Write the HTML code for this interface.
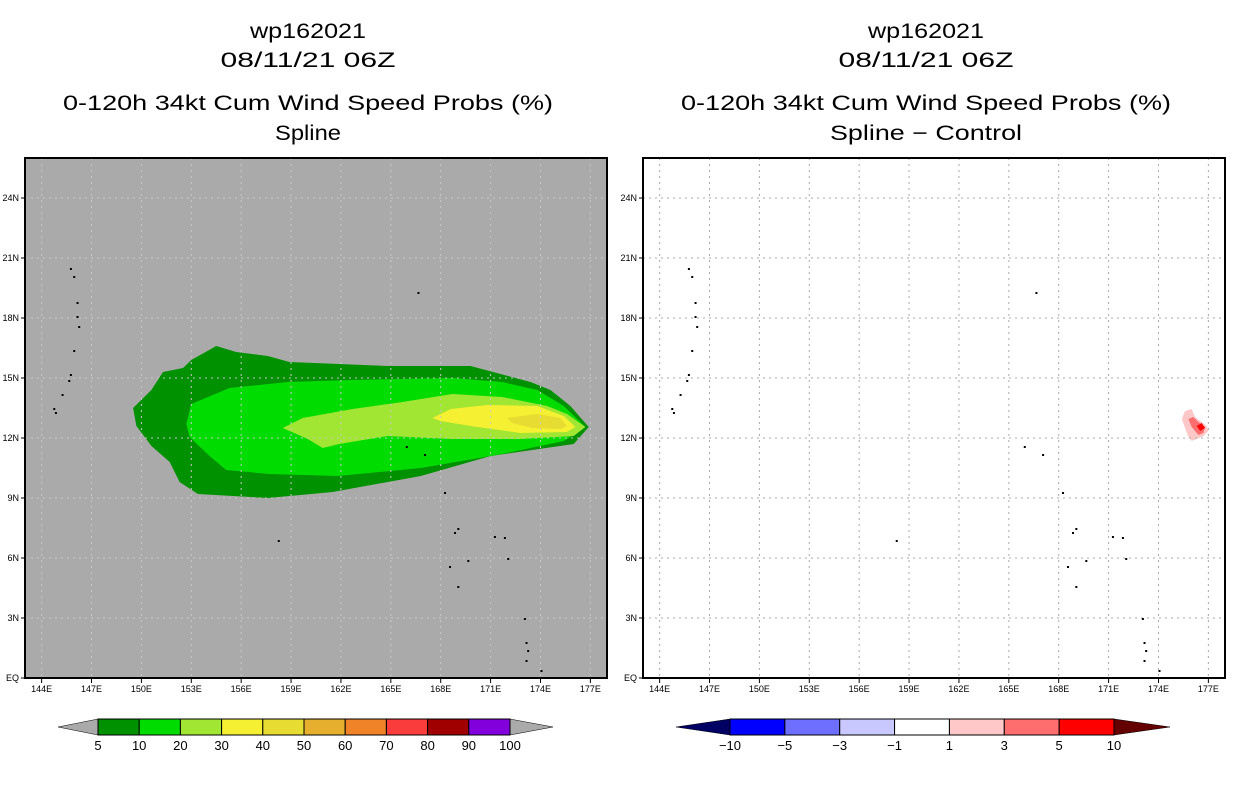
<!DOCTYPE html>
<html><head><meta charset="utf-8"><style>
body{margin:0;background:#fff;width:1236px;height:800px;overflow:hidden;font-family:"Liberation Sans",sans-serif}
svg{position:absolute;left:0;top:0}
</style></head><body>
<svg id="c" width="1236" height="800" xmlns="http://www.w3.org/2000/svg"></svg>
<script>
const lonTicks=[144,147,150,153,156,159,162,165,168,171,174,177];
const latTicks=[0,3,6,9,12,15,18,21,24];
const latLabels=["EQ","3N","6N","9N","12N","15N","18N","21N","24N"];
const leftLevels=["5","10","20","30","40","50","60","70","80","90","100"];
const leftColors=["#009100","#00dc00","#a0e632","#f5f032","#e6dc32","#e6af2d","#f08228","#fa3c3c","#a00000","#8200dc"];
const rightLevels=["−10","−5","−3","−1","1","3","5","10"];
const rightColors=["#0000ff","#6e6eff","#c8c8ff","#ffffff","#ffc8c8","#ff6e6e","#ff0000"];
const p5=[[149.5,13.5],[150.6,14.4],[151.3,15.3],[152.5,15.5],[153,15.9],[154.5,16.6],[155.7,16.3],[157.6,16.1],[158.9,15.8],[164.8,15.6],[169.8,15.6],[173.4,14.8],[174.6,14.4],[175.8,13.6],[176.9,12.55],[176,11.7],[171,11.1],[166.8,10.1],[161.5,9.3],[157.6,9],[153.4,9.2],[152.3,9.8],[151.7,10.8],[150.6,11.6],[149.7,12.6]];
const p10=[[152.7,12.7],[153,13.7],[155.3,14.5],[158.8,14.8],[162.7,14.9],[168.7,15],[171.7,14.8],[173.8,14.4],[175.4,13.6],[176.7,12.55],[175.4,11.85],[171.7,11.2],[166.8,10.5],[161.8,10.1],[157.7,10.2],[155.1,10.4],[154.1,11.1],[152.9,12.05]];
const p20=[[158.5,12.5],[159.7,13],[162.7,13.45],[165.7,13.8],[168.7,14.2],[171.7,14.05],[174.4,13.6],[175.6,13.2],[176.7,12.55],[176,12.1],[172.8,11.95],[168.7,11.95],[164.8,12.1],[161.9,11.7],[160.9,11.5],[160,11.95]];
const p30=[[167.5,13],[168.6,13.45],[170.8,13.65],[173.8,13.6],[175.4,13.1],[176.1,12.55],[175.6,12.3],[172.8,12.25],[169.8,12.6],[168,12.85]];
const p40=[[172,13],[173.8,13.2],[175.2,13],[175.6,12.6],[175.2,12.45],[173.5,12.5],[172.3,12.75]];
const d1=[[175.4,12.95],[175.6,13.35],[176,13.45],[176.2,13.05],[176.9,12.6],[177,12.35],[176.7,12.1],[176,11.85],[175.8,12.05]];
const d3=[[175.8,12.95],[176.1,13.05],[176.4,12.8],[176.8,12.55],[176.7,12.25],[176.4,12.15],[176,12.55]];
const d5=[[176.3,12.6],[176.6,12.75],[176.8,12.5],[176.5,12.35]];
const islands=[[145.7,20.5],[145.9,20.1],[146.1,18.8],[146.1,18.1],[146.2,17.6],[145.9,16.4],[145.7,15.2],[145.6,14.9],[145.2,14.2],[144.7,13.5],[144.8,13.3],[166.6,19.3],[158.2,6.9],[165.9,11.6],[167,11.2],[168.2,9.3],[169,7.5],[168.8,7.3],[171.2,7.1],[171.8,7.05],[172,6.0],[169.6,5.9],[168.5,5.6],[169,4.6],[173,3.0],[173.1,1.8],[173.2,1.4],[173.1,0.9],[174,0.4]];
const NS="http://www.w3.org/2000/svg";
const svg=document.getElementById('c');
function mk(t,a,p){const e=document.createElementNS(NS,t);for(const k in a)e.setAttribute(k,a[k]);(p||svg).appendChild(e);return e;}
const FX0=143,FX1=178,LAT1=26;
function panel(ox,name){
  const X=lon=>ox+(lon-FX0)*(582/(FX1-FX0));
  const Y=lat=>678-lat*(520/LAT1);
  const g=mk('g',{});
  
  
  return {g,X,Y};
}
function poly(P,pts,fill,nm){const e=mk('polygon',{points:pts.map(p=>P.X(p[0]).toFixed(1)+','+P.Y(p[1]).toFixed(1)).join(' '),fill:fill},P.g);
  
  }
function text(x,y,s,sz,anchor,nm,tl){const t=mk('text',{x:x,y:y,'font-size':sz,'text-anchor':anchor||'middle',fill:'#000','font-family':'Liberation Sans, sans-serif'});t.textContent=s;
  if(tl){t.setAttribute('textLength',tl);t.setAttribute('lengthAdjust','spacingAndGlyphs');}
  
  return t;}
function drawPanel(ox,bg,name,polys,gridCol,titles,lens){
  const P=panel(ox,name);
  mk('rect',{x:ox,y:158,width:582,height:520,fill:bg},P.g);
  polys.forEach(q=>poly(P,q[0],q[1],q[2]));
  lonTicks.forEach(l=>{mk('line',{x1:P.X(l),x2:P.X(l),y1:158,y2:678,stroke:gridCol,'stroke-width':1,'stroke-dasharray':'2,4'},P.g);
    mk('line',{x1:P.X(l),x2:P.X(l),y1:678,y2:683,stroke:'#000'},P.g);
    text(P.X(l),692,l+'E',9,'middle','lon-tick-label');});
  latTicks.forEach((l,i)=>{if(l>0)mk('line',{x1:ox,x2:ox+582,y1:P.Y(l),y2:P.Y(l),stroke:gridCol,'stroke-width':1,'stroke-dasharray':'2,4'},P.g);
    mk('line',{x1:ox-4,x2:ox,y1:P.Y(l),y2:P.Y(l),stroke:'#000'},P.g);
    text(ox-6,P.Y(l)+3,latLabels[i],9,'end','lat-tick-label');});
  islands.forEach(p=>{const r=mk('rect',{x:P.X(p[0]),y:P.Y(p[1]),width:2,height:2,fill:'#000'},P.g);
    
    });
  mk('rect',{x:ox,y:158,width:582,height:520,fill:'none',stroke:'#000','stroke-width':2},P.g);
  const cx=ox+283;
  text(cx,38,titles[0],21,'middle','storm-id',lens[0]);
  text(cx,67,titles[1],21,'middle','date-title',lens[1]);
  text(cx,110,titles[2],21,'middle','product-title',lens[2]);
  text(cx,140,titles[3],21,'middle','method-title',lens[3]);
}
drawPanel(25,'#aaaaaa','spline-map',[[p5,leftColors[0],'contour-5'],[p10,leftColors[1],'contour-10'],[p20,leftColors[2],'contour-20'],[p30,leftColors[3],'contour-30'],[p40,leftColors[4],'contour-40']],'#c8c8c8',['wp162021','08/11/21 06Z','0-120h 34kt Cum Wind Speed Probs (%)','Spline'],[116,175,490,66]);
drawPanel(643,'#ffffff','difference-map',[[d1,rightColors[4],'diff-1'],[d3,rightColors[5],'diff-3'],[d5,rightColors[6],'diff-5']],'#aaaaaa',['wp162021','08/11/21 06Z','0-120h 34kt Cum Wind Speed Probs (%)','Spline − Control'],[116,175,490,192]);
function colorbar(x0,x1,tipL,tipR,colors,levels,lc,rc,nm){
  const g=mk('g',{});
  
  
  const w=(x1-x0)/colors.length;
  mk('polygon',{points:`${tipL},727 ${x0},719 ${x0},735`,fill:lc,stroke:'#000','stroke-width':0.5},g);
  mk('polygon',{points:`${tipR},727 ${x1},719 ${x1},735`,fill:rc,stroke:'#000','stroke-width':0.5},g);
  colors.forEach((c,i)=>{const r=mk('rect',{x:x0+i*w,y:719,width:w,height:16,fill:c,stroke:'#000','stroke-width':1},g);
    
    });
  levels.forEach((s,i)=>{const t=text(x0+i*w,750,s,13,'middle','colorbar-label');g.appendChild(t);});
}
colorbar(98,510,58,553,leftColors,leftLevels,'#aaaaaa','#aaaaaa','probability-colorbar');
colorbar(730,1114,676,1170,rightColors,rightLevels,'#000064','#640000','difference-colorbar');
</script>
</body></html>
